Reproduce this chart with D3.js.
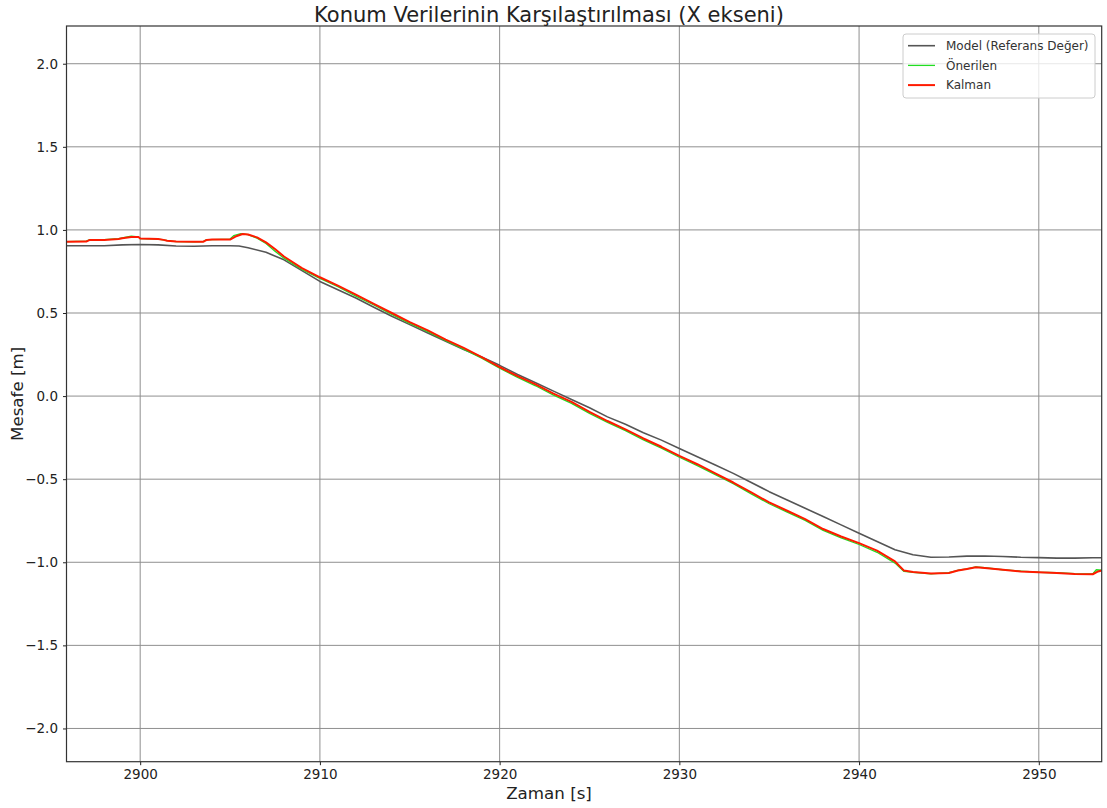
<!DOCTYPE html>
<html>
<head>
<meta charset="utf-8">
<script src="https://cdn.jsdelivr.net/npm/d3@7"></script>
<style>
  html, body { margin: 0; padding: 0; background: #fff; }
  svg { display: block; font-family: "DejaVu Sans", sans-serif; }
</style>
</head>
<body>
<svg id="chart" width="1107" height="808"></svg>
<script>
// ---- Data ----
const chartTitle = "Konum Verilerinin Karşılaştırılması (X ekseni)";
const xLabel = "Zaman [s]";
const yLabel = "Mesafe [m]";
const seriesNames = ["Model (Referans Değer)", "Önerilen", "Kalman"];
const xTicks = [2900, 2910, 2920, 2930, 2940, 2950];
const yTicks = [-2.0, -1.5, -1.0, -0.5, 0.0, 0.5, 1.0, 1.5, 2.0];
const xDomain = [2895.9, 2953.5];
const yDomain = [-2.2, 2.227];

const modelTime = [2895.9, 2897, 2898, 2899, 2900, 2901, 2902, 2903, 2904, 2905, 2905.5, 2906, 2907, 2908, 2909,
  2910, 2911, 2912, 2913, 2914, 2915, 2916, 2917, 2918, 2919, 2920, 2921, 2922, 2923, 2924, 2925, 2926, 2927,
  2928, 2929, 2930, 2931, 2932, 2933, 2934, 2935, 2936, 2937, 2938, 2939, 2940, 2941, 2942, 2943, 2944, 2945,
  2946, 2947, 2948, 2949, 2950, 2951, 2952, 2953, 2953.5];
const modelValues = [0.905, 0.905, 0.905, 0.91, 0.912, 0.91, 0.903, 0.902, 0.905, 0.905, 0.903, 0.893, 0.865, 0.82, 0.755,
  0.69, 0.64, 0.59, 0.535, 0.48, 0.43, 0.38, 0.33, 0.28, 0.235, 0.185, 0.13, 0.08, 0.03, -0.02, -0.07, -0.125, -0.17,
  -0.22, -0.265, -0.315, -0.365, -0.415, -0.465, -0.52, -0.575, -0.625, -0.675, -0.725, -0.775, -0.825, -0.875, -0.925, -0.955, -0.97, -0.968,
  -0.963, -0.962, -0.965, -0.97, -0.972, -0.975, -0.975, -0.973, -0.973];

const kalmanTime = [2895.9, 2897, 2897.2, 2898, 2898.8, 2899, 2899.5, 2899.9, 2900, 2901, 2901.3, 2901.5, 2902, 2903, 2903.5, 2903.7,
  2904, 2905, 2905.3, 2905.7, 2906, 2906.5, 2907, 2907.5, 2908, 2909, 2910, 2911, 2912, 2913, 2914, 2915, 2916,
  2917, 2918, 2919, 2920, 2921, 2922, 2923, 2924, 2925, 2926, 2927, 2928, 2929, 2930, 2931, 2932, 2933, 2934,
  2935, 2936, 2937, 2938, 2939, 2940, 2941, 2942, 2942.5, 2943, 2944, 2945, 2945.5, 2946, 2946.5, 2947, 2948,
  2949, 2950, 2951, 2952, 2953, 2953.3, 2953.5];
const kalmanValues = [0.928, 0.93, 0.94, 0.94, 0.945, 0.95, 0.958, 0.958, 0.948, 0.945, 0.94, 0.935, 0.93, 0.928, 0.928, 0.94,
  0.942, 0.942, 0.96, 0.975, 0.972, 0.955, 0.925, 0.885, 0.84, 0.77, 0.715, 0.665, 0.61, 0.555, 0.5, 0.445, 0.395,
  0.34, 0.29, 0.235, 0.175, 0.12, 0.07, 0.015, -0.035, -0.095, -0.15, -0.2, -0.255, -0.305, -0.36, -0.41, -0.465, -0.52, -0.58,
  -0.64, -0.69, -0.74, -0.8, -0.845, -0.885, -0.93, -0.995, -1.05, -1.058, -1.068, -1.065, -1.05, -1.04, -1.03, -1.035, -1.045,
  -1.055, -1.06, -1.065, -1.07, -1.072, -1.055, -1.05];

const proposedTime = [2895.9, 2897, 2897.2, 2898, 2898.8, 2899, 2899.5, 2899.9, 2900, 2901, 2901.3, 2901.5, 2902, 2903, 2903.5, 2903.7,
  2904, 2905, 2905.2, 2905.6, 2906, 2906.5, 2907, 2907.5, 2908, 2909, 2910, 2911, 2912, 2913, 2914, 2915, 2916,
  2917, 2918, 2919, 2920, 2921, 2922, 2923, 2924, 2925, 2926, 2927, 2928, 2929, 2930, 2931, 2932, 2933, 2934,
  2935, 2936, 2937, 2938, 2939, 2940, 2941, 2942, 2942.5, 2943, 2944, 2945, 2945.5, 2946, 2946.5, 2947, 2948,
  2949, 2950, 2951, 2952, 2953, 2953.2, 2953.5];
const proposedValues = [0.93, 0.932, 0.942, 0.942, 0.947, 0.952, 0.962, 0.958, 0.948, 0.945, 0.94, 0.935, 0.93, 0.928, 0.93, 0.942,
  0.942, 0.945, 0.965, 0.978, 0.972, 0.95, 0.918, 0.872, 0.83, 0.762, 0.708, 0.658, 0.602, 0.548, 0.492, 0.438, 0.388,
  0.333, 0.283, 0.228, 0.168, 0.113, 0.062, 0.006, -0.044, -0.104, -0.158, -0.208, -0.263, -0.313, -0.368, -0.418, -0.473, -0.527, -0.588,
  -0.648, -0.698, -0.748, -0.808, -0.853, -0.893, -0.94, -1.005, -1.055, -1.06, -1.07, -1.062, -1.048, -1.04, -1.028, -1.033, -1.045,
  -1.053, -1.06, -1.063, -1.068, -1.07, -1.045, -1.048];

// ---- Layout ----
const svg = d3.select("#chart");
const W = 1107, H = 808;
const margin = { left: 66.5, right: W - 1101.7, top: 26, bottom: H - 761.7 };
const x = d3.scaleLinear().domain(xDomain).range([margin.left, W - margin.right]);
const y = d3.scaleLinear().domain(yDomain).range([H - margin.bottom, margin.top]);
const textCenterX = 549;

const clipId = "plotclip";
svg.append("defs").append("clipPath").attr("id", clipId)
  .append("rect")
  .attr("x", x.range()[0]).attr("y", y.range()[1])
  .attr("width", x.range()[1] - x.range()[0])
  .attr("height", y.range()[0] - y.range()[1]);

// Grid
const grid = svg.append("g").attr("class", "grid");
grid.selectAll("line.gx").data(xTicks).join("line")
  .attr("x1", d => x(d)).attr("x2", d => x(d))
  .attr("y1", y.range()[0]).attr("y2", y.range()[1])
  .attr("stroke", "#8f8f8f").attr("stroke-width", 1);
grid.selectAll("line.gy").data(yTicks).join("line")
  .attr("y1", d => y(d)).attr("y2", d => y(d))
  .attr("x1", x.range()[0]).attr("x2", x.range()[1])
  .attr("stroke", "#8f8f8f").attr("stroke-width", 1);

// Lines
const mkLine = (t) => d3.line().x((d, i) => x(t[i])).y(d => y(d));
const plot = svg.append("g").attr("clip-path", `url(#${clipId})`);
plot.append("path").datum(modelValues)
  .attr("d", mkLine(modelTime)).attr("fill", "none")
  .attr("stroke", "#555555").attr("stroke-width", 1.6).attr("stroke-linejoin", "round");
plot.append("path").datum(proposedValues)
  .attr("d", mkLine(proposedTime)).attr("fill", "none")
  .attr("stroke", "#22dd22").attr("stroke-width", 1.3).attr("stroke-linejoin", "round");
plot.append("path").datum(kalmanValues)
  .attr("d", mkLine(kalmanTime)).attr("fill", "none")
  .attr("stroke", "#ff1a00").attr("stroke-width", 2).attr("stroke-linejoin", "round");

// Axes
const fmtY = d => (d < 0 ? "\u2212" : "") + Math.abs(d).toFixed(1);
const xAxis = d3.axisBottom(x).tickValues(xTicks).tickSize(3.5).tickPadding(4).tickFormat(d3.format("d"));
const yAxis = d3.axisLeft(y).tickValues(yTicks).tickSize(3.5).tickPadding(5).tickFormat(fmtY);
const gx = svg.append("g").attr("transform", `translate(0,${y.range()[0]})`).call(xAxis);
const gy = svg.append("g").attr("transform", `translate(${x.range()[0]},0)`).call(yAxis);
[gx, gy].forEach(g => {
  g.select(".domain").remove();
  g.selectAll("line").attr("stroke", "#222");
  g.selectAll("text").attr("font-size", 13.5).attr("fill", "#222").attr("font-family", "DejaVu Sans");
});

// Frame
svg.append("rect")
  .attr("x", x.range()[0]).attr("y", y.range()[1])
  .attr("width", x.range()[1] - x.range()[0])
  .attr("height", y.range()[0] - y.range()[1])
  .attr("fill", "none").attr("stroke", "#333").attr("stroke-width", 1.2);

// Title and labels
svg.append("text").attr("x", textCenterX).attr("y", 22)
  .attr("text-anchor", "middle").attr("font-size", 21).attr("fill", "#222").text(chartTitle);
svg.append("text").attr("x", textCenterX).attr("y", 799)
  .attr("text-anchor", "middle").attr("font-size", 16.7).attr("fill", "#222").text(xLabel);
svg.append("text").attr("transform", `translate(23,${(y.range()[0] + y.range()[1]) / 2}) rotate(-90)`)
  .attr("text-anchor", "middle").attr("font-size", 16.7).attr("fill", "#222").text(yLabel);

// Legend
const colors = ["#555555", "#22dd22", "#ff1a00"];
const widths = [1.6, 1.3, 2];
const leg = svg.append("g").attr("transform", "translate(903,34)");
leg.append("rect").attr("x", 0).attr("y", 0).attr("width", 192).attr("height", 64)
  .attr("rx", 3).attr("fill", "#fff").attr("fill-opacity", 0.8)
  .attr("stroke", "#cccccc").attr("stroke-width", 1);
seriesNames.forEach((name, i) => {
  const cy = 11.7 + i * 19.7;
  leg.append("line").attr("x1", 5).attr("x2", 32).attr("y1", cy).attr("y2", cy)
    .attr("stroke", colors[i]).attr("stroke-width", widths[i]);
  leg.append("text").attr("x", 43).attr("y", cy).attr("dy", "0.35em")
    .attr("font-size", 12).attr("fill", "#333").text(name);
});
</script>
</body>
</html>
